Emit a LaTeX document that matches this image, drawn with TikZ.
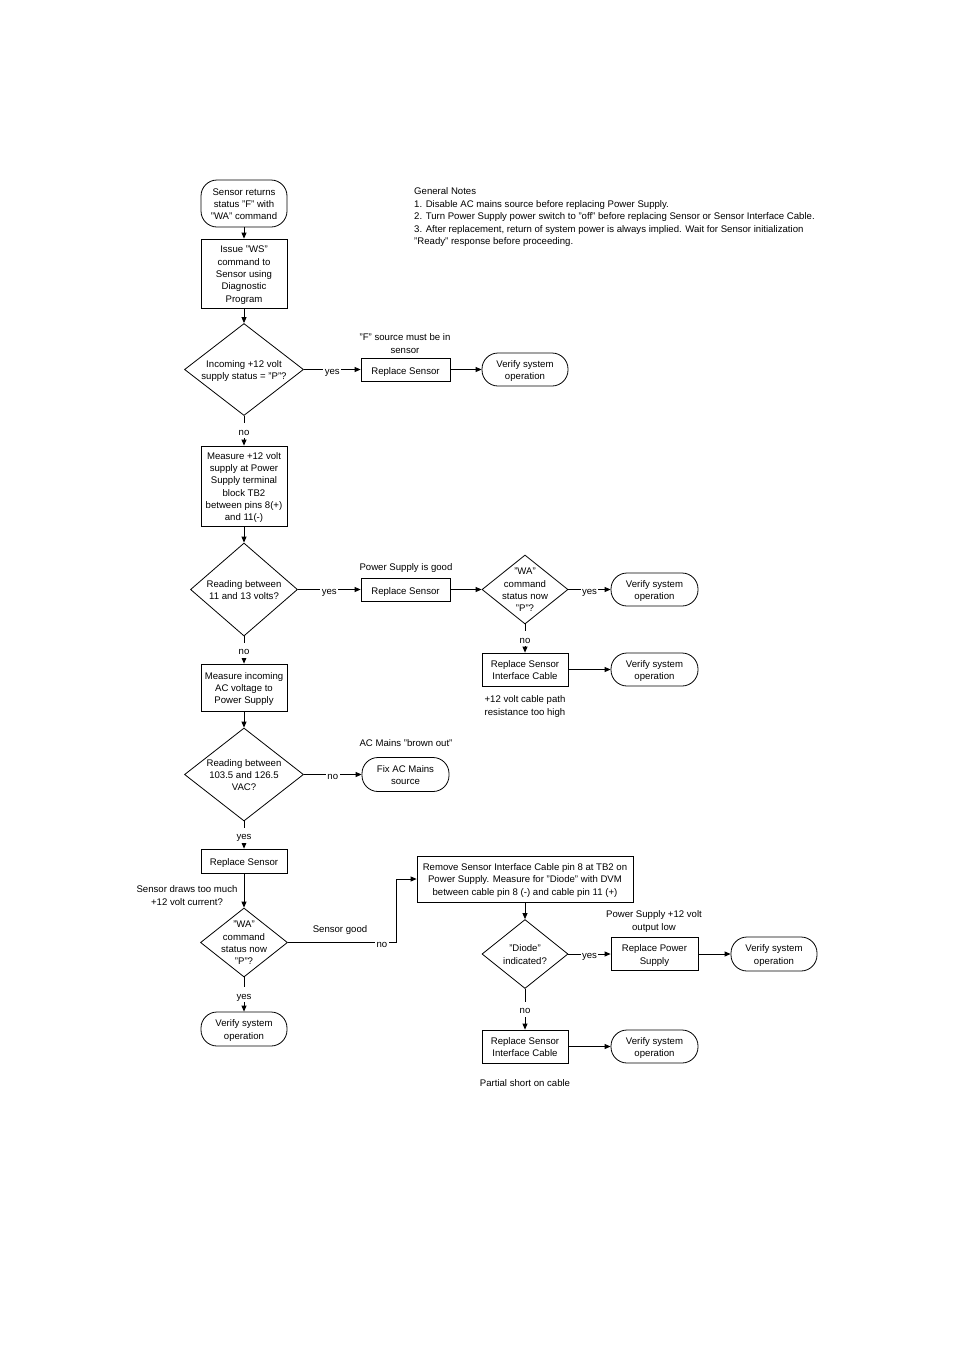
\documentclass[tikz,border=0pt]{standalone}
\usepackage{fontspec}
\setmainfont{Liberation Sans}
\usetikzlibrary{shapes.geometric,arrows.meta}
\newcommand\mytopstrut{\rule{0pt}{10.6pt}}
\begin{document}
\begin{tikzpicture}[x=1pt,y=-1pt,
  every node/.style={font=\fontsize{9.6}{12.3}\selectfont, inner sep=0pt,
    execute at begin node={\rule{0pt}{12.2pt}},
    execute at end node={\rule[-2.8pt]{0pt}{2.8pt}}},
  box/.style={draw, line width=0.8pt, align=center},
  term/.style={draw, line width=0.8pt, rounded corners=16pt, align=center},
  diam/.style={draw, line width=0.8pt, diamond, inner sep=0pt},
  txt/.style={align=center},
  arr/.style={-{Triangle[length=6pt,width=5pt]}, line width=0.8pt},
  lbl/.style={fill=white, inner xsep=1.5pt, inner ysep=0pt}]
\useasboundingbox (0,0) rectangle (954,1350);

% notes
\node[anchor=north west, align=left, font=\fontsize{9.6}{12.45}\selectfont] (notes) at (414,184) {\mytopstrut General Notes\\
1. Disable AC mains source before replacing Power Supply.\\
2. Turn Power Supply power switch to "off" before replacing Sensor or Sensor Interface Cable.\\
3. After replacement, return of system power is always implied. Wait for Sensor initialization\\
"Ready" response before proceeding.};

% main column
\node[term, minimum width=86, minimum height=47] (start) at (244,203.5) {\mytopstrut Sensor returns\\status "F" with\\"WA" command};
\node[box, minimum width=86, minimum height=69] (b2) at (244,273.5) {\mytopstrut Issue "WS"\\command to\\Sensor using\\Diagnostic\\Program};
\node[diam, minimum width=119, minimum height=92] (d1) at (244,369.5) {};
\node[txt] (d1t) at (d1.center) {\mytopstrut Incoming +12 volt\\supply status = "P"?};
\node[box, minimum width=89, minimum height=23] (rs1) at (405.5,369.5) {Replace Sensor};
\node[term, minimum width=86, minimum height=33] (v1) at (525,369.5) {\mytopstrut Verify system\\operation};
\node[txt] (l1) at (405,343) {\mytopstrut "F" source must be in\\sensor};

\node[box, minimum width=86, minimum height=80] (b4) at (244,486) {\mytopstrut Measure +12 volt\\supply at Power\\Supply terminal\\block TB2\\between pins 8(+)\\and 11(-)};
\node[diam, minimum width=107, minimum height=93] (d2) at (244,589.5) {};
\node[txt] (d2t) at (d2.center) {\mytopstrut Reading between\\11 and 13 volts?};
\node[box, minimum width=89, minimum height=23] (rs2) at (405.5,589.5) {Replace Sensor};
\node[txt] (l2) at (406,566) {Power Supply is good};
\node[diam, minimum width=86, minimum height=69] (d3) at (525,589.5) {};
\node[txt] (d3t) at (d3.center) {\mytopstrut "WA"\\command\\status now\\"P"?};
\node[term, minimum width=87, minimum height=33] (v2) at (654.5,589.5) {\mytopstrut Verify system\\operation};
\node[box, minimum width=86, minimum height=33] (ric1) at (525,669.5) {\mytopstrut Replace Sensor\\Interface Cable};
\node[term, minimum width=87, minimum height=33] (v3) at (654.5,669.5) {\mytopstrut Verify system\\operation};
\node[txt] (l3) at (525,705) {\mytopstrut +12 volt cable path\\resistance too high};

\node[box, minimum width=86, minimum height=47] (b6) at (244,687.5) {\mytopstrut Measure incoming\\AC voltage to\\Power Supply};
\node[diam, minimum width=119, minimum height=93] (d4) at (244,774.5) {};
\node[txt] (d4t) at (d4.center) {\mytopstrut Reading between\\103.5 and 126.5\\VAC?};
\node[term, minimum width=87, minimum height=34] (fix) at (405.5,774.5) {\mytopstrut Fix AC Mains\\source};
\node[txt] (l4) at (406,742) {AC Mains "brown out"};

\node[box, minimum width=86, minimum height=24] (rs3) at (244,861) {Replace Sensor};
\node[txt] (l5) at (187,895) {\mytopstrut Sensor draws too much\\+12 volt current?};
\node[diam, minimum width=87, minimum height=69] (d5) at (244,942.5) {};
\node[txt] (d5t) at (d5.center) {\mytopstrut "WA"\\command\\status now\\"P"?};
\node[term, minimum width=86, minimum height=34] (v4) at (244,1029) {\mytopstrut Verify system\\operation};
\node[txt] (l6) at (340,928) {Sensor good};

\node[box, minimum width=216, minimum height=46] (rem) at (525,879) {\mytopstrut Remove Sensor Interface Cable pin 8 at TB2 on\\Power Supply. Measure for "Diode" with DVM\\between cable pin 8 (-) and cable pin 11 (+)};
\node[diam, minimum width=86, minimum height=69] (d6) at (525,954) {};
\node[txt] (d6t) at (d6.center) {\mytopstrut "Diode"\\indicated?};
\node[box, minimum width=87, minimum height=33] (rps) at (654.5,954) {\mytopstrut Replace Power\\Supply};
\node[txt] (l7) at (654,920) {\mytopstrut Power Supply +12 volt\\output low};
\node[term, minimum width=86, minimum height=34] (v5) at (774,954) {\mytopstrut Verify system\\operation};
\node[box, minimum width=86, minimum height=33] (ric2) at (525,1046.5) {\mytopstrut Replace Sensor\\Interface Cable};
\node[term, minimum width=87, minimum height=33] (v6) at (654.5,1046.5) {\mytopstrut Verify system\\operation};
\node[txt] (l8) at (525,1082) {Partial short on cable};

% connectors
\draw[arr] (start) -- (b2);
\draw[arr] (b2) -- (d1);
\draw[arr] (d1) -- node[lbl]{yes} (rs1);
\draw[arr] (rs1) -- (v1);
\draw[arr] (d1) -- node[lbl]{no} (b4);
\draw[arr] (b4) -- (d2);
\draw[arr] (d2) -- node[lbl]{yes} (rs2);
\draw[arr] (rs2) -- (d3);
\draw[arr] (d3) -- node[lbl]{yes} (v2);
\draw[arr] (d3) -- node[lbl]{no} (ric1);
\draw[arr] (ric1) -- (v3);
\draw[arr] (d2) -- node[lbl]{no} (b6);
\draw[arr] (b6) -- (d4);
\draw[arr] (d4) -- node[lbl]{no} (fix);
\draw[arr] (d4) -- node[lbl]{yes} (rs3);
\draw[arr] (rs3) -- (d5);
\draw[arr] (d5) -- node[lbl]{yes} (v4);
\draw[arr] (d5.east) -- node[lbl,pos=0.87]{no} ++(108,0) |- (rem.west);
\draw[arr] (rem) -- (d6);
\draw[arr] (d6) -- node[lbl]{yes} (rps);
\draw[arr] (rps) -- (v5);
\draw[arr] (d6) -- node[lbl]{no} (ric2);
\draw[arr] (ric2) -- (v6);
\end{tikzpicture}
\end{document}
